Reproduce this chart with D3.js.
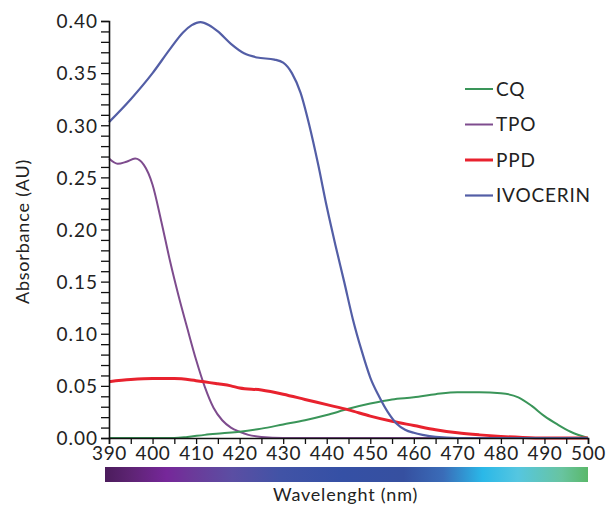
<!DOCTYPE html>
<html>
<head>
<meta charset="utf-8">
<script src="https://cdn.jsdelivr.net/npm/d3@7"></script>
<style>
  body { margin: 0; background: #fff; }
  svg text { font-family: Lato, "Open Sans", sans-serif; fill: #222; }
</style>
</head>
<body>
<div id="chart"></div>
<script>
// absorbance spectra
var seriesNames = ['CQ', 'TPO', 'PPD', 'IVOCERIN'];

var cqNm  = [390, 405, 408, 412, 416, 420, 425, 430, 435, 440, 445, 450, 455, 460, 465, 470, 475, 480, 484, 487, 490, 493, 496, 500];
var cqAbs = [0, 0, 0.001, 0.003, 0.0045, 0.006, 0.009, 0.013, 0.017, 0.022, 0.028, 0.033, 0.037, 0.039, 0.042, 0.044, 0.044, 0.043, 0.039, 0.031, 0.021, 0.013, 0.006, 0];

var tpoNm  = [390, 392, 394, 396, 398, 400, 402, 404, 406, 408, 410, 412, 414, 416, 418, 420, 422, 425, 430, 450, 500];
var tpoAbs = [0.268, 0.263, 0.265, 0.268, 0.262, 0.243, 0.208, 0.170, 0.136, 0.105, 0.075, 0.049, 0.029, 0.017, 0.010, 0.006, 0.003, 0.001, 0, 0, 0];

var ppdNm  = [390, 395, 400, 405, 410, 415, 418, 420, 425, 430, 435, 440, 445, 450, 455, 460, 465, 470, 475, 480, 485, 490, 500];
var ppdAbs = [0.054, 0.056, 0.057, 0.057, 0.055, 0.052, 0.050, 0.048, 0.046, 0.042, 0.037, 0.032, 0.027, 0.021, 0.016, 0.012, 0.008, 0.005, 0.003, 0.0015, 0.0005, 0, 0];

var ivoNm  = [390, 395, 400, 404, 407, 409, 411, 413, 415, 418, 421, 424, 428, 430, 432, 434, 436, 438, 440, 442, 444, 446, 448, 450, 452, 454, 456, 458, 460, 462, 465, 470, 500];
var ivoAbs = [0.303, 0.325, 0.350, 0.373, 0.389, 0.396, 0.399, 0.396, 0.390, 0.378, 0.369, 0.365, 0.363, 0.360, 0.350, 0.331, 0.300, 0.263, 0.222, 0.185, 0.150, 0.114, 0.084, 0.058, 0.040, 0.025, 0.014, 0.008, 0.005, 0.003, 0.001, 0, 0];

var xTicks = [390, 400, 410, 420, 430, 440, 450, 460, 470, 480, 490, 500];
var yTicks = [0, 0.05, 0.10, 0.15, 0.20, 0.25, 0.30, 0.35, 0.40];

// visible-spectrum strip under the axis
var gradNm     = [390, 396, 404, 410, 419, 430, 444, 458, 467, 476, 484, 494, 500];
var gradColors = ['#4b1c5c', '#5e2474', '#76279a', '#6b3a9a', '#5b4ea3', '#4153a6', '#3550a5', '#3650a0', '#3a6cb8', '#2ab8e8', '#55c6e0', '#68c4a0', '#5ab86a'];

var colors = { CQ: '#3a9559', TPO: '#7e4c8e', PPD: '#e8222e', IVOCERIN: '#535ea6' };
var widths = { CQ: 2, TPO: 2, PPD: 3, IVOCERIN: 2.2 };

var data = {
  CQ: cqNm.map(function (d, i) { return { x: d, y: cqAbs[i] }; }),
  TPO: tpoNm.map(function (d, i) { return { x: d, y: tpoAbs[i] }; }),
  PPD: ppdNm.map(function (d, i) { return { x: d, y: ppdAbs[i] }; }),
  IVOCERIN: ivoNm.map(function (d, i) { return { x: d, y: ivoAbs[i] }; })
};

var width = 616, height = 507;
var margin = { top: 21, left: 109, right: 28, bottom: 69 };
var innerWidth = width - margin.left - margin.right,
    innerHeight = height - margin.top - margin.bottom;

var svg = d3.select('#chart').append('svg').attr('width', width).attr('height', height);
var g = svg.append('g').attr('transform', 'translate(' + margin.left + ',' + margin.top + ')');

var x = d3.scaleLinear().domain([390, 500]).range([0, innerWidth]);
var y = d3.scaleLinear().domain([0, 0.40]).range([innerHeight, 0]);

// curves (TPO drawn first so the others sit on top)
var line = d3.line().x(function (d) { return x(d.x); }).y(function (d) { return y(d.y); }).curve(d3.curveMonotoneX);
['TPO', 'CQ', 'PPD', 'IVOCERIN'].forEach(function (k) {
  g.append('path')
    .datum(data[k])
    .attr('d', line)
    .attr('fill', 'none')
    .attr('stroke', colors[k])
    .attr('stroke-width', widths[k])
    .attr('stroke-linejoin', 'round');
});

function isMajor(list, d) {
  return list.some(function (t) { return Math.abs(t - d) < 1e-9; });
}

// y axis: minor ticks every 0.01, labels every 0.05
var yMinor = d3.range(0, 41).map(function (i) { return i / 100; });
var yAx = g.append('g')
  .call(d3.axisLeft(y).tickValues(yMinor).tickSize(8).tickFormat(d3.format('.2f')));
yAx.select('.domain').attr('stroke', '#111').attr('stroke-width', 1.6);
yAx.selectAll('.tick line').attr('stroke', '#111').attr('stroke-width', 1.3);
yAx.selectAll('.tick text').filter(function (d) { return !isMajor(yTicks, d); }).remove();
yAx.selectAll('.tick text').attr('font-size', 19).attr('x', -11).attr('dy', '0.36em').style('letter-spacing', '1px');

// x axis: ticks every 5 nm, labels every 10 nm
var xMinor = d3.range(390, 501, 5);
var xAx = g.append('g')
  .attr('transform', 'translate(0,' + innerHeight + ')')
  .call(d3.axisBottom(x).tickValues(xMinor).tickSize(6));
xAx.select('.domain').attr('stroke', '#111').attr('stroke-width', 1.6);
xAx.selectAll('.tick line').attr('stroke', '#111').attr('stroke-width', 1.3);
xAx.selectAll('.tick text').filter(function (d) { return !isMajor(xTicks, d); }).remove();
xAx.selectAll('.tick text').attr('font-size', 19).attr('y', 9).style('letter-spacing', '0.6px');

// spectrum strip
var grad = svg.append('defs').append('linearGradient').attr('id', 'spectrum')
  .attr('x1', '0%').attr('x2', '100%').attr('y1', '0%').attr('y2', '0%');
gradNm.forEach(function (nm, i) {
  grad.append('stop').attr('offset', (x(nm) / innerWidth * 100) + '%').attr('stop-color', gradColors[i]);
});
g.append('rect')
  .attr('x', x(390) - 4).attr('y', innerHeight + 29)
  .attr('width', x(500) - x(390) + 4).attr('height', 15)
  .attr('fill', 'url(#spectrum)');

// axis titles
g.append('text')
  .attr('x', (x(390) + x(500)) / 2 - 3).attr('y', innerHeight + 63)
  .attr('text-anchor', 'middle').attr('font-size', 18)
  .style('letter-spacing', '0.8px')
  .text('Wavelenght (nm)');

g.append('text')
  .attr('transform', 'translate(' + (-80) + ',' + (y(0.2) + 2) + ') rotate(-90)')
  .attr('text-anchor', 'middle').attr('font-size', 18)
  .style('letter-spacing', '0.8px')
  .text('Absorbance (AU)');

// legend
var legend = g.append('g').selectAll('g')
  .data(seriesNames).enter().append('g')
  .attr('transform', function (d, i) { return 'translate(356,' + (68 + i * 35.5) + ')'; });
legend.append('line')
  .attr('x1', 0).attr('x2', 28).attr('y1', 0).attr('y2', 0)
  .attr('stroke', function (d) { return colors[d]; })
  .attr('stroke-width', function (d) { return widths[d]; });
legend.append('text')
  .attr('x', 31).attr('y', 0).attr('dy', '0.36em')
  .attr('font-size', 19)
  .style('letter-spacing', '0.8px')
  .text(function (d) { return d; });
</script>
</body>
</html>
